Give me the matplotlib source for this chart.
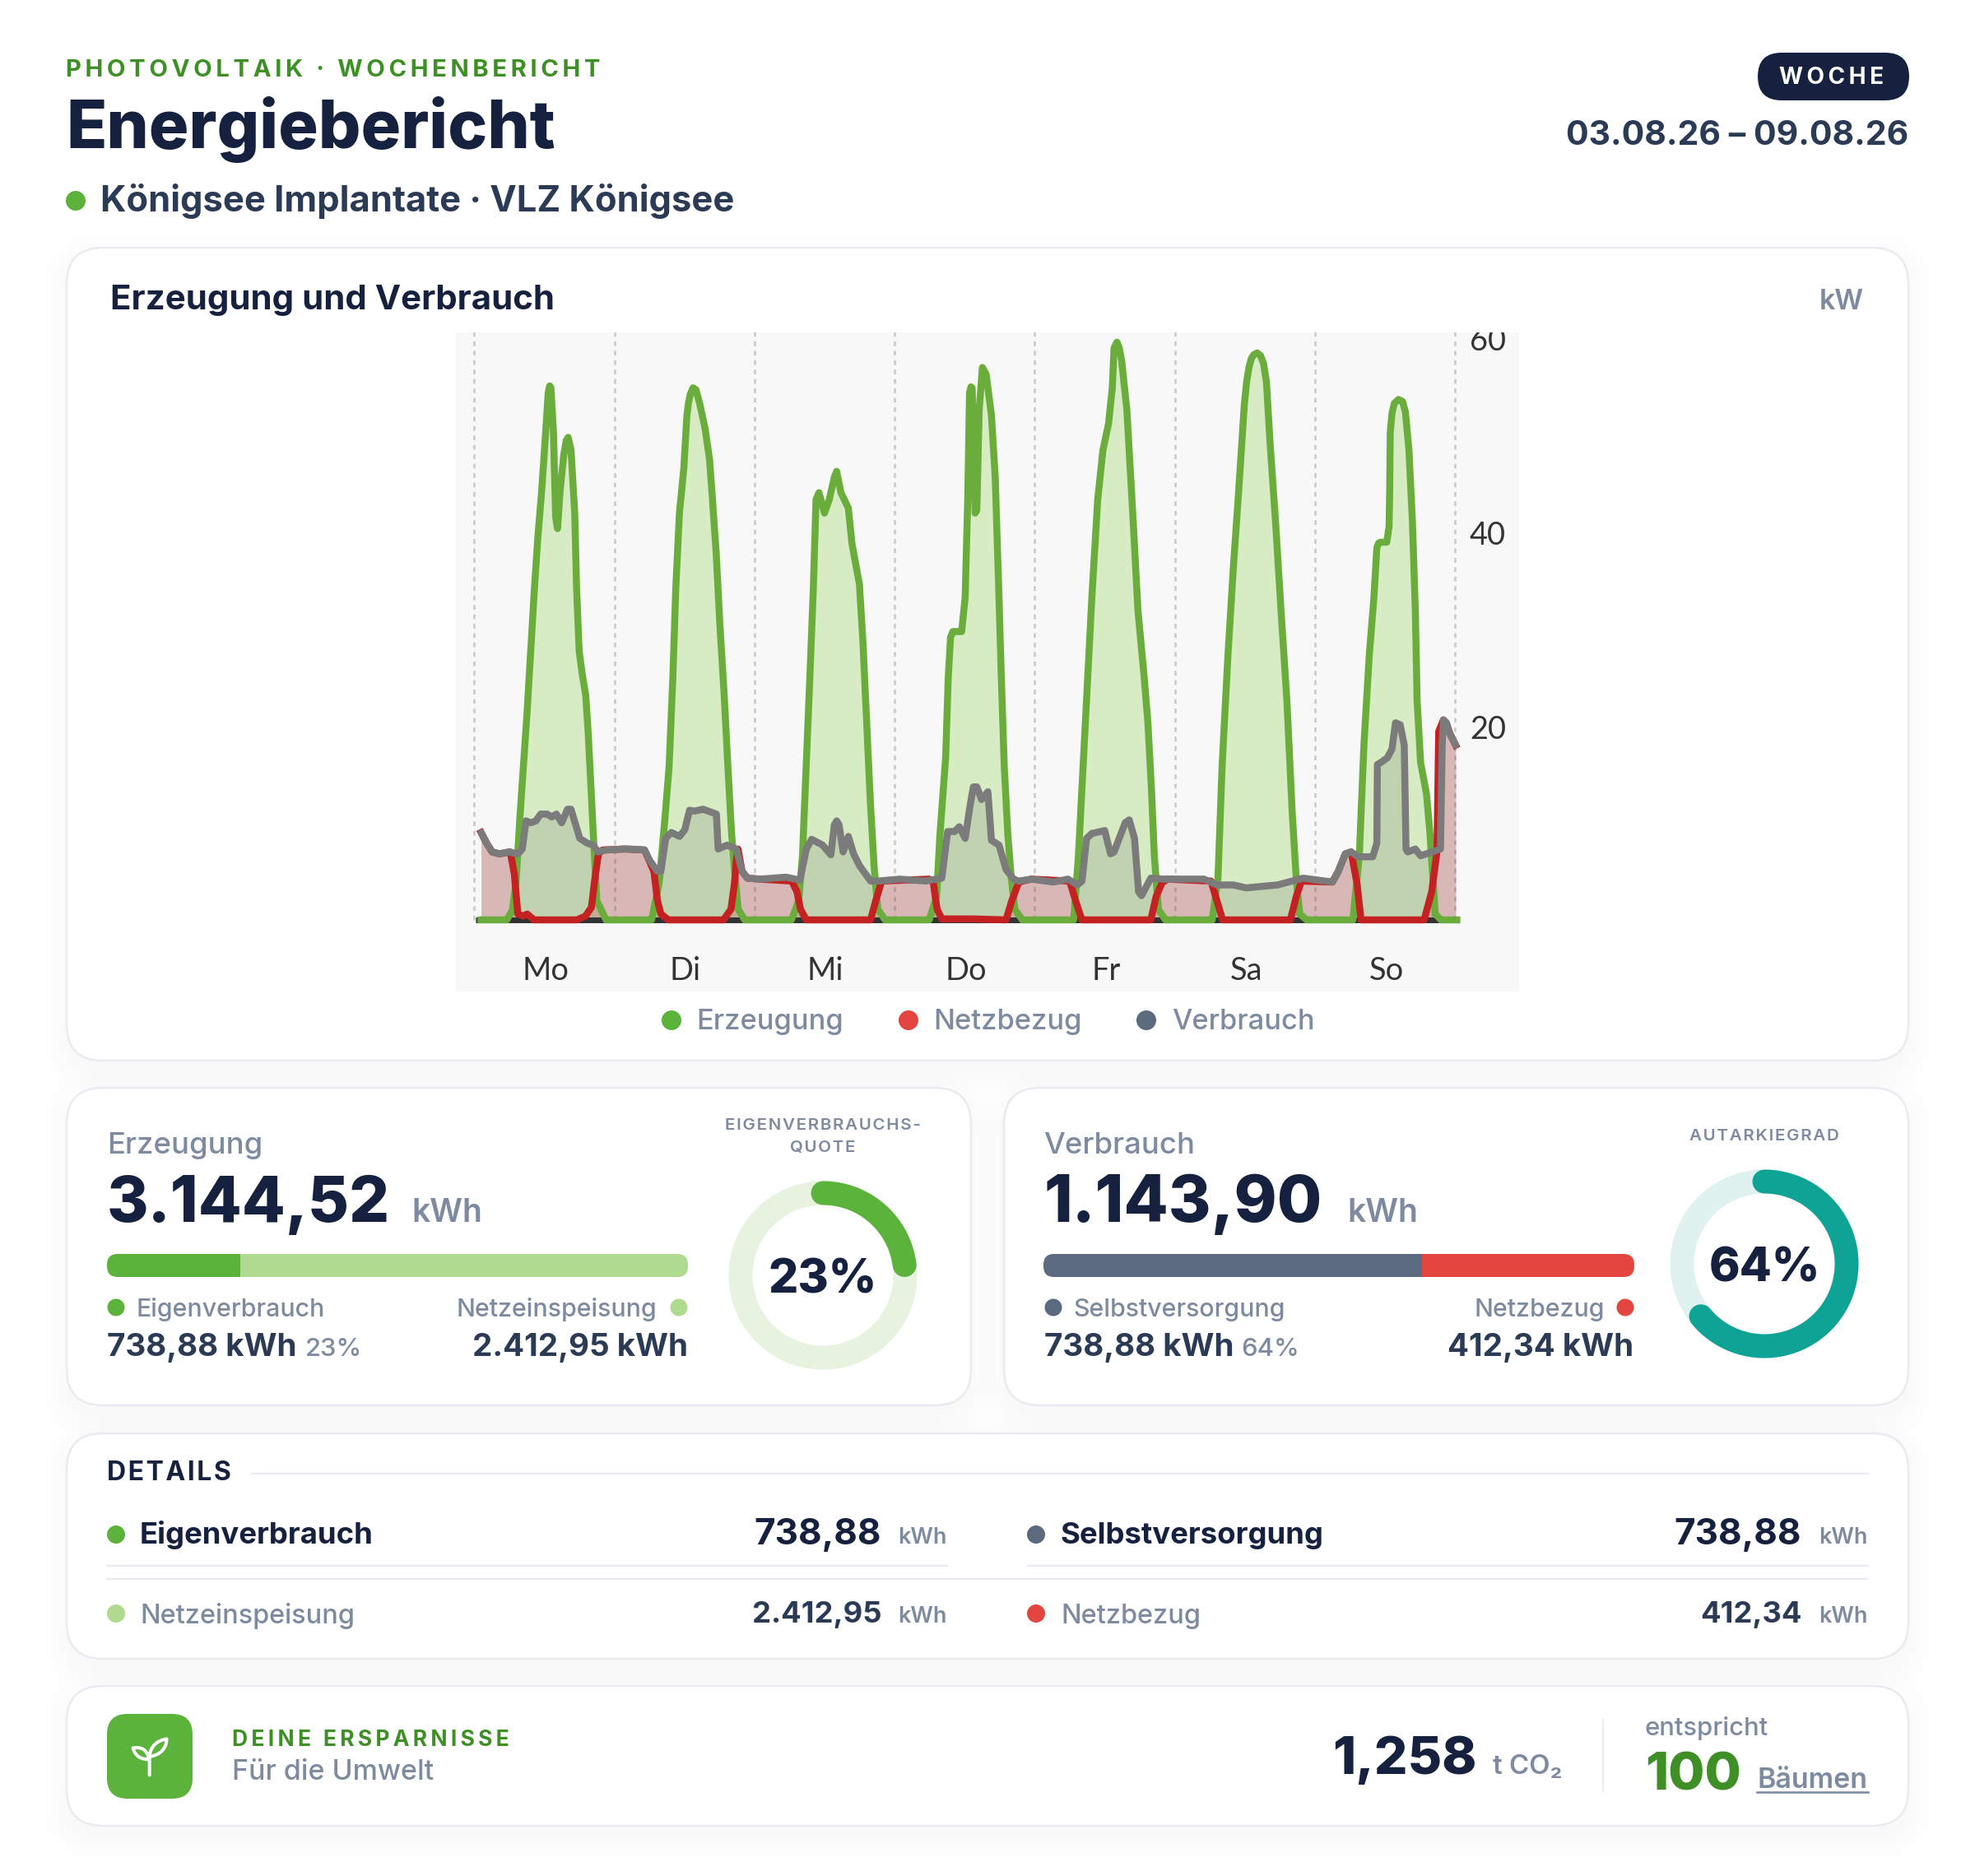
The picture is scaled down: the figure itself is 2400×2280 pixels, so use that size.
"""Energiebericht PV weekly dashboard, drawn in pixel coordinates on one figure"""
import numpy as np
import matplotlib
matplotlib.use("Agg")
import matplotlib.pyplot as plt
from matplotlib.patches import FancyBboxPatch, Circle, PathPatch
from matplotlib.path import Path

W, H = 2400, 2280
PX = 72 / 200  # px -> pt at dpi 200

plt.rcParams['font.family'] = ['Inter', 'DejaVu Sans']

NAVY = '#16213f'; SLATE = '#2b3a55'; GREY = '#7d8aa0'; LINE = '#e8ebf0'
GREEN = '#5bb33b'; LGREEN = '#b0da8f'; DGREEN = '#3f8f27'
RED = '#e2463f'; STEEL = '#5c6a80'; TEAL = '#0fa396'
HAIR = '\u200a'

# ── data: (hour of week, kW) ──
gen_mo = [(1, 0), (5.4, 0), (6.35, 1.0), (6.98, 3.8), (7.61, 10.2), (8.24, 15.8), (8.87, 21.3), (9.5, 27.7),
          (10.13, 34.1), (10.75, 39.6), (11.38, 44.2), (12.0, 49.7), (12.5, 54.3), (12.75, 55.0), (12.96, 54.8), (13.4, 50.2),
          (13.77, 41.5), (14.09, 40.3), (14.53, 44.2), (15.16, 47.9), (15.6, 49.4), (15.91, 49.7), (16.4, 48.4), (17.04, 41.9),
          (17.36, 34.1), (17.8, 27.7), (18.3, 25.4), (18.93, 23.1), (19.37, 19.0), (19.87, 13.0), (20.3, 7.9),
          (20.82, 2.0), (22.4, 0)]
gen_di = [(30.2, 0), (31.5, 3.8), (32.45, 10.2), (33.2, 15.8), (33.84, 24.9), (34.34, 34.1), (34.97, 41.9),
          (35.72, 46.5), (36.23, 51.8), (36.5, 53.2), (36.86, 54.2), (37.3, 54.8), (37.8, 54.6), (38.43, 53.2), (39.37, 50.6), (40.13, 47.4),
          (40.63, 43.3), (41.26, 37.8), (41.89, 30.5), (42.64, 23.1), (43.27, 15.8), (43.9, 8.9), (44.4, 5.2),
          (45.03, 1.1), (46.16, 0)]
gen_mi = [(54.15, 0), (55.4, 2.0), (56.04, 6.6), (56.67, 15.8), (57.3, 24.9), (57.9, 34.1), (58.36, 43.3),
          (58.87, 44.0), (59.81, 41.9), (60.63, 43.3), (61.5, 45.6), (61.89, 46.2), (62.64, 44.0), (63.9, 42.4), (64.53, 38.7),
          (65.79, 34.6), (66.4, 28.6), (67.04, 20.3), (67.67, 12.1), (68.3, 5.6), (68.93, 1.1), (70.2, 0)]
gen_do = [(77.74, 0), (79.0, 2.4), (79.6, 8.9), (80.56, 16.7), (81.0, 24.9), (81.4, 29.1), (81.8, 29.7),
          (83.3, 29.7), (83.9, 33.2), (84.34, 43.3), (84.65, 54.3), (84.9, 54.9), (85.1, 54.8), (85.6, 41.9), (85.9, 42.2),
          (86.3, 52.5), (86.85, 56.9), (87.5, 56.2), (88.4, 52.0), (89.05, 45.6), (89.65, 34.1), (90.1, 24.9),
          (90.6, 15.8), (91.2, 8.9), (91.8, 4.3), (92.4, 1.1), (93.7, 0)]
gen_fr = [(102.48, 0), (103.3, 6.6), (103.9, 13.5), (104.7, 22.6), (105.6, 33.2), (106.6, 43.3), (107.5, 48.4),
          (108.45, 51.1), (109.1, 54.8), (109.4, 58.9), (109.9, 59.5), (110.3, 58.9), (110.7, 57.6), (111.6, 52.5), (112.6, 41.9),
          (113.5, 31.8), (114.5, 25.4), (115.2, 20.3), (115.8, 13.5), (116.3, 6.6), (117.0, 1.1), (118.2, 0)]
gen_sa = [(126.2, 0), (127.2, 4.3), (127.9, 15.8), (128.9, 27.2), (129.8, 36.0), (130.8, 44.7), (131.7, 53.0),
          (132.1, 55.4), (132.5, 56.9), (132.9, 57.8), (133.3, 58.2), (133.9, 58.4), (134.5, 58.1), (135.0, 57.3), (135.5, 55.4), (136.1, 49.3), (137.1, 40.6), (138.0, 31.8),
          (139.0, 22.6), (139.9, 11.2), (140.6, 4.3), (141.2, 0.6), (142.4, 0)]
gen_so = [(150.3, 0), (151.4, 6.6), (152.2, 18.1), (153.1, 27.2), (153.9, 33.2), (154.4, 38.3), (154.7, 38.8), (155.0, 38.9),
          (156.1, 38.9), (156.5, 40.5), (156.6, 44.0), (156.7, 50.2), (157.0, 52.2), (157.4, 53.2), (158.1, 53.6), (158.8, 53.4), (159.3, 52.3), (159.9, 48.4),
          (160.5, 41.0), (161.0, 31.8), (161.3, 22.6), (161.9, 16.2), (162.9, 13.0), (163.5, 8.9), (164.0, 4.3),
          (164.4, 0.6), (165.4, 0), (168.1, 0)]

load = [(1, 9.0), (1.95, 7.9), (2.9, 7.0), (4.15, 6.8), (5.7, 7.0), (7.3, 6.8), (8.05, 7.3), (8.7, 10.2), (9.5, 10.0),
        (10.4, 10.2), (11.2, 10.9), (12.3, 10.9), (13.1, 10.6), (13.9, 10.9), (14.8, 10.0), (15.8, 11.4), (16.4, 11.4),
        (17.0, 10.2), (17.9, 8.4), (19.2, 7.9), (20.2, 7.7), (21.0, 7.0), (22.4, 7.2), (25.5, 7.3), (26.5, 7.3),
        (29.0, 7.2), (29.9, 6.1), (31.2, 5.0), (31.8, 5.0), (32.6, 8.4), (33.6, 9.0), (35.0, 8.6), (35.9, 9.3),
        (36.7, 11.3), (37.5, 11.2), (39.0, 11.4), (41.3, 10.9), (41.6, 7.3), (43.1, 7.7), (44.7, 7.3), (45.7, 5.0),
        (46.6, 4.3), (48.8, 4.2), (53.2, 4.4), (55.6, 4.1), (56.7, 7.3), (57.6, 8.3), (59.5, 7.7), (60.9, 6.7),
        (61.5, 9.8), (61.9, 10.2), (62.3, 9.8), (63.0, 7.0), (63.9, 8.6), (64.8, 6.8), (65.8, 5.6), (67.7, 4.0),
        (69.0, 4.0), (72.7, 4.2), (77.1, 4.0), (79.9, 4.3), (80.9, 9.1), (82.1, 9.1), (82.9, 9.6), (83.9, 8.4),
        (84.7, 11.6), (85.3, 13.7), (85.9, 13.7), (86.7, 12.4), (87.8, 13.2), (88.4, 8.2), (89.7, 7.7), (90.9, 5.2),
        (92.2, 4.2), (93.1, 4.0), (95.2, 4.2), (99.0, 3.9), (101.5, 4.2), (103.1, 3.6), (103.9, 4.0), (104.7, 8.4),
        (105.6, 8.9), (107.8, 9.2), (108.8, 6.8), (109.4, 7.0), (111.3, 10.0), (112.0, 10.3), (112.9, 8.4),
        (113.6, 2.9), (114.1, 2.5), (115.7, 4.3), (117.9, 4.2), (124.8, 4.2), (127.0, 3.6), (129.8, 3.6), (132.0, 3.3),
        (137.4, 3.6), (139.9, 4.0), (141.8, 4.3), (146.8, 3.9), (147.8, 5.0), (149.0, 6.8), (150.0, 7.0), (151.2, 6.5),
        (153.7, 6.5), (154.4, 7.9), (154.5, 16.0), (155.3, 16.3), (156.2, 16.7), (157.0, 17.6), (157.6, 20.3),
        (158.4, 20.1), (159.1, 18.0), (159.4, 7.3), (159.7, 7.0), (161.0, 7.3), (161.9, 6.6), (165.3, 7.3), (165.6, 18.0),
        (165.8, 20.6), (166.3, 20.3), (166.9, 19.2), (167.9, 18.0)]

grid = [(1, 9.0), (1.95, 7.9), (2.9, 7.0), (4.15, 6.8), (6.0, 7.0), (6.7, 4.7), (7.3, 0.6), (8.2, 0.4), (8.9, 0.6),
        (10.1, 0), (17.4, 0), (18.9, 0.4), (19.9, 1.3), (20.5, 4.3), (21.1, 6.8), (21.8, 7.2), (25.5, 7.3), (29.0, 7.2),
        (30.6, 5.0), (31.2, 2.0), (31.8, 0.6), (33.1, 0), (42.5, 0), (43.8, 1.1), (44.4, 3.8), (44.7, 6.1), (45.0, 7.3),
        (45.7, 5.0), (46.6, 4.3), (48.8, 4.2), (54.2, 4.0), (55.1, 2.9), (55.7, 1.1), (56.7, 0), (67.7, 0), (68.6, 2.0),
        (69.6, 4.0), (77.7, 4.2), (78.4, 4.0), (79.1, 1.1), (79.9, 0.1), (85.3, 0.1), (90.9, 0), (91.9, 2.0), (93.1, 3.9),
        (95.2, 4.2), (101.8, 4.0), (102.8, 2.0), (103.9, 0), (115.7, 0), (116.6, 2.4), (117.6, 3.8), (118.5, 4.2),
        (126.0, 4.0), (127.0, 2.0), (128.0, 0), (139.6, 0), (140.6, 2.4), (141.5, 4.0), (146.8, 3.9), (147.8, 5.0),
        (149.0, 6.8), (150.0, 7.0), (151.0, 3.8), (151.7, 0), (162.5, 0), (163.8, 2.9), (164.7, 7.0), (165.0, 19.4),
        (165.8, 20.6), (166.3, 20.3), (166.9, 19.2), (167.9, 18.0)]

day_labels = ['Mo', 'Di', 'Mi', 'Do', 'Fr', 'Sa', 'So']
y_labels = [20, 40, 60]
erz_shares = [23, 77]
verb_shares = [64, 36]
erz_pct = 23
aut_pct = 64

fig = plt.figure(figsize=(12, 11.4), dpi=200, facecolor='white')
bg = fig.add_axes([0, 0, 1, 1])
bg.set_xlim(0, W); bg.set_ylim(H, 0); bg.axis('off')


def T(x, y, s, px, color=NAVY, weight='normal', ha='left', va='baseline', track=None):
    if track:
        s = track.join(s)
    return bg.text(x, y, s, fontsize=px * PX, color=color, fontweight=weight, ha=ha, va=va, zorder=6)


def rrect(x0, y0, x1, y1, r, **kw):
    p = FancyBboxPatch((x0, y0), x1 - x0, y1 - y0, boxstyle=f'round,pad=0,rounding_size={r}', **kw)
    bg.add_patch(p)
    return p


def dot(x, y, color, r=11):
    bg.add_patch(Circle((x, y), r, fc=color, ec='none', zorder=5))


def card(x0, y0, x1, y1, r=44):
    for i in range(6):
        g = i * 6
        rrect(x0 - g, y0 + 12 - g, x1 + g, y1 + 12 + g, r + g, fc='#1a2540', ec='none', alpha=0.004, zorder=1)
    rrect(x0, y0, x1, y1, r, fc='white', ec=LINE, lw=2.5 * PX, zorder=2)


def bar(x0, x1, y0, y1, shares, colors):
    ax = fig.add_axes([x0 / W, 1 - y1 / H, (x1 - x0) / W, (y1 - y0) / H], zorder=3)
    ax.set_xlim(0, sum(shares)); ax.set_ylim(0, 1); ax.axis('off')
    shape = FancyBboxPatch((x0, y0), x1 - x0, y1 - y0, boxstyle='round,pad=0,rounding_size=13',
                           transform=bg.transData)
    left = 0
    for v, c in zip(shares, colors):
        b = ax.barh(0.5, v, left=left, height=1, color=c, linewidth=0)
        b[0].set_clip_path(shape)
        left += v


def donut(cx, cy, pct, track_c, value_c, r=100, lw=29):
    th = np.linspace(0, 2 * np.pi, 200)
    bg.plot(cx + r * np.sin(th), cy - r * np.cos(th), color=track_c, lw=lw * PX, zorder=3)
    th = np.linspace(0, 2 * np.pi * pct / 100, 120)
    bg.plot(cx + r * np.sin(th), cy - r * np.cos(th), color=value_c, lw=lw * PX, solid_capstyle='round', zorder=4)
    T(cx, cy + 21, f'{pct}%', 57, NAVY, 800, 'center')


# ── header ──
T(80, 93, 'PHOTOVOLTAIK · WOCHENBERICHT', 29.3, DGREEN, 'bold', track='\u2009')
T(80, 180, 'Energiebericht', 81, NAVY, 800)
dot(92, 244, GREEN, 12)
T(122, 257, 'Königsee Implantate · VLZ Königsee', 43.5, SLATE, 'bold')
rrect(2136, 64, 2320, 122, 29, fc=NAVY, ec='none', zorder=3)
T(2226, 102, 'WOCHE', 28, 'white', 'bold', 'center', track=HAIR * 2)
T(2319, 176, '03.08.26 – 09.08.26', 41, SLATE, 'bold', 'right')

# ── main chart card ──
card(81, 301, 2319, 1289)
T(134, 376, 'Erzeugung und Verbrauch', 42, NAVY, 'bold')
T(2265, 376, 'kW', 34, GREY, 'semibold', 'right')

X0, Y0, X1, Y1 = 554, 404, 1846, 1205
ax = fig.add_axes([X0 / W, 1 - Y1 / H, (X1 - X0) / W, (Y1 - Y0) / H], zorder=3)
ax.set_xlim((X0 - 577.5) / 170.3 * 24, (X1 - 577.5) / 170.3 * 24)
ax.set_ylim((1118 - Y1) / 11.8, (1118 - Y0) / 11.8)
ax.set_facecolor('#f8f8f8')
for s in ax.spines.values():
    s.set_visible(False)
ax.set_xticks([]); ax.set_yticks([])

gen = np.array(gen_mo + gen_di + gen_mi + gen_do + gen_fr + gen_sa + gen_so)
ld = np.array(load)
gr = np.array(grid)

ax.vlines(np.arange(0, 169, 24) - 0.17, 0, 62, color='#c9c9c9', lw=2.6 * PX, linestyle=(0, (2.2, 2.2)), zorder=1)
ax.fill_between(gen[:, 0], gen[:, 1], 0, color='#d7ecc3', lw=0, zorder=2)
ax.fill_between(ld[:, 0], ld[:, 1], 0, color='#3a3a3a', alpha=0.14, lw=0, zorder=3)
ax.fill_between(gr[:, 0], gr[:, 1], 0, color='#c42222', alpha=0.2, lw=0, zorder=3.1)
ax.hlines(0, 0, 168, color='#333333', lw=7 * PX, zorder=3.5)
ax.plot(gen[:, 0], gen[:, 1], color='#6aad3d', lw=8.5 * PX, solid_joinstyle='round', zorder=4)
ax.plot(gr[:, 0], gr[:, 1], color='#c42222', lw=8.5 * PX, solid_joinstyle='round', zorder=5)
ax.plot(ld[:, 0], ld[:, 1], color='#7b7b7b', lw=8.5 * PX, solid_joinstyle='round', solid_capstyle='round', zorder=6)

for i, d in enumerate(day_labels):
    ax.text(12 + 24 * i, -6.2, d, fontsize=38 * PX, color='#333333', family=['Lato', 'DejaVu Sans'], ha='center',
            va='baseline', fontweight='normal', zorder=7)
for v in y_labels:
    ax.text(173.4, v - 0.4, str(v), fontsize=38 * PX, color='#333333', family=['Lato', 'DejaVu Sans'], ha='center',
            va='center', fontweight='normal', clip_on=True, zorder=7)

for xd, xt, lab, c in [(816, 846, 'Erzeugung', GREEN), (1104, 1134, 'Netzbezug', RED), (1393, 1424, 'Verbrauch', STEEL)]:
    dot(xd, 1240, c, 12)
    T(xt, 1251, lab, 34.5, GREY, 'medium')

# ── KPI cards ──
card(81, 1322, 1180, 1708)
T(130, 1402, 'Erzeugung', 36.5, GREY, 'medium')
T(130, 1485, '3.144,52', 77, NAVY, 800)
T(500, 1485, 'kWh', 39, GREY, 'semibold')
bar(130, 836, 1524, 1552, erz_shares, [GREEN, LGREEN])
dot(141, 1589, GREEN, 10.5)
T(166, 1600, 'Eigenverbrauch', 30.3, GREY, 'medium')
T(798, 1600, 'Netzeinspeisung', 30.3, GREY, 'medium', 'right')
dot(825, 1589, LGREEN, 10.5)
T(130, 1648, '738,88 kWh', 38.5, SLATE, 'bold')
T(371, 1648, '23%', 31, GREY, 'medium')
T(836, 1648, '2.412,95 kWh', 38.5, SLATE, 'bold', 'right')
T(1000, 1373, 'EIGENVERBRAUCHS-', 20.5, GREY, 'semibold', 'center', track=HAIR)
T(1000, 1400, 'QUOTE', 20.5, GREY, 'semibold', 'center', track=HAIR)
donut(1000, 1550, erz_pct, '#e8f3df', GREEN)

card(1220, 1322, 2319, 1708)
T(1268, 1402, 'Verbrauch', 36.5, GREY, 'medium')
T(1269, 1485, '1.143,90', 79, NAVY, 800)
T(1637, 1485, 'kWh', 39, GREY, 'semibold')
bar(1268, 1986, 1524, 1552, verb_shares, [STEEL, RED])
dot(1280, 1589, STEEL, 10.5)
T(1304, 1600, 'Selbstversorgung', 30.3, GREY, 'medium')
T(1950, 1600, 'Netzbezug', 30.3, GREY, 'medium', 'right')
dot(1975, 1589, RED, 10.5)
T(1269, 1648, '738,88 kWh', 38.5, SLATE, 'bold')
T(1508, 1648, '64%', 31, GREY, 'medium')
T(1985, 1648, '412,34 kWh', 38.5, SLATE, 'bold', 'right')
T(2144, 1386, 'AUTARKIEGRAD', 20.5, GREY, 'semibold', 'center', track=HAIR)
donut(2144, 1536, aut_pct, '#e0f2f0', TEAL)

# ── details ──
card(81, 1742, 2319, 2016)
T(130, 1799, 'DETAILS', 32, NAVY, 'bold', track=HAIR)
bg.plot([306, 2270], [1791, 1791], color=LINE, lw=2.2 * PX, zorder=3)
bg.plot([130, 1151], [1903, 1903], color=LINE, lw=2.2 * PX, zorder=3)
bg.plot([1249, 2270], [1903, 1903], color=LINE, lw=2.2 * PX, zorder=3)
bg.plot([130, 2270], [1919, 1919], color=LINE, lw=2.2 * PX, zorder=3)

dot(141, 1865, GREEN)
T(170, 1876, 'Eigenverbrauch', 36.5, NAVY, 'bold')
T(1071, 1877, '738,88', 44, NAVY, 'bold', 'right')
T(1151, 1876, 'kWh', 27, GREY, 'semibold', 'right')
dot(1259, 1865, STEEL)
T(1288, 1876, 'Selbstversorgung', 36.5, NAVY, 'bold')
T(2189, 1877, '738,88', 44, NAVY, 'bold', 'right')
T(2270, 1876, 'kWh', 27, GREY, 'semibold', 'right')
dot(141, 1961, LGREEN)
T(170, 1973, 'Netzeinspeisung', 32.5, GREY, 'medium')
T(1072, 1972, '2.412,95', 36.5, SLATE, 'bold', 'right')
T(1151, 1972, 'kWh', 27, GREY, 'semibold', 'right')
dot(1259, 1961, RED)
T(1289, 1973, 'Netzbezug', 32.5, GREY, 'medium')
T(2190, 1972, '412,34', 36.5, SLATE, 'bold', 'right')
T(2270, 1972, 'kWh', 27, GREY, 'semibold', 'right')

# ── savings ──
card(81, 2049, 2319, 2219)
rrect(130, 2083, 234, 2186, 25, fc=GREEN, ec='none', zorder=3)
# sprout icon
z = lambda a, b: (120 + a / 3, 2070 + b / 3)
verts = [z(185, 262), z(185, 195),
         z(185, 195), z(190, 140), z(248, 130), z(245, 185), z(185, 195),
         z(183, 205), z(175, 155), z(125, 163), z(135, 205), z(183, 205)]
codes = [Path.MOVETO, Path.LINETO,
         Path.MOVETO, Path.CURVE3, Path.CURVE3, Path.CURVE3, Path.CURVE3,
         Path.MOVETO, Path.CURVE3, Path.CURVE3, Path.CURVE3, Path.CURVE3]
bg.add_patch(PathPatch(Path(verts, codes), fc='none', ec='white', lw=4 * PX, capstyle='round', joinstyle='round', zorder=4))

T(282, 2122, 'DEINE ERSPARNISSE', 26.5, DGREEN, 'bold', track=HAIR * 2)
T(282, 2163, 'Für die Umwelt', 34, GREY, 'medium')
T(1795, 2156, '1,258', 64, NAVY, 800, 'right')
T(1814, 2156, 't CO₂', 33, GREY, 'semibold')
bg.plot([1948, 1948], [2090, 2177], color=LINE, lw=2.2 * PX, zorder=3)
T(1999, 2109, 'entspricht', 31, GREY, 'medium')
T(1999, 2176, '100', 64, DGREEN, 800)
T(2135, 2173, 'Bäumen', 34, GREY, 'semibold')
bg.plot([2135, 2270], [2178, 2178], color=GREY, lw=2.6 * PX, zorder=3)

fig.savefig('out.png', dpi=200, facecolor='white')
